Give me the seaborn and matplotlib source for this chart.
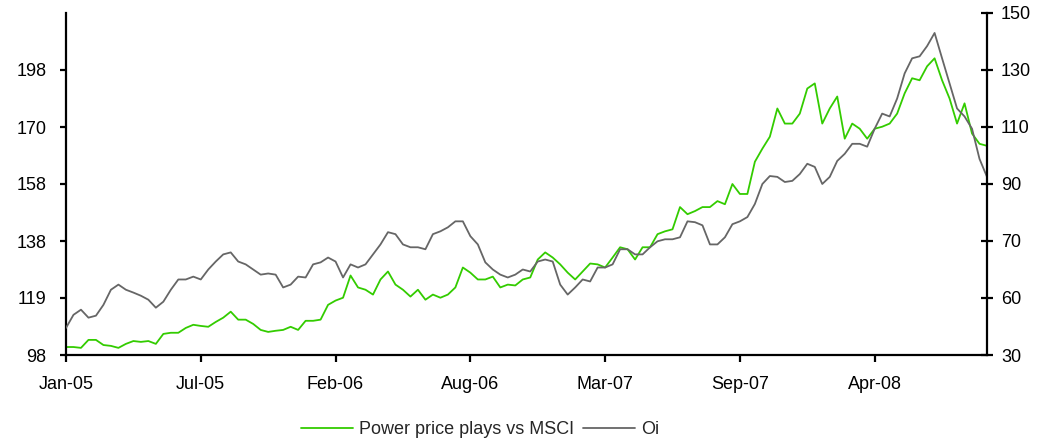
import pandas as pd
import matplotlib
matplotlib.use('Agg')
import matplotlib.pyplot as plt
import seaborn as sns

# Roughly weekly points
power = [100.8, 100.8, 100.5, 103.3, 103.3, 101.5, 101.2, 100.5, 101.9, 102.9,
         102.6, 102.9, 101.9, 105.4, 105.8, 105.8, 107.5, 108.6, 108.2, 107.9,
         109.6, 111.1, 113.2, 110.4, 110.4, 108.9, 106.8, 106.1, 106.5, 106.8,
         107.9, 106.8, 110.0, 110.0, 110.4, 115.6, 117.1, 118.1, 125.9, 121.7,
         120.9, 119.2, 124.5, 127.3, 122.7, 120.9, 118.5, 120.9, 117.4, 119.2,
         118.1, 119.2, 121.7, 128.7, 126.9, 124.5, 124.5, 125.5, 121.7, 122.7,
         122.4, 124.5, 125.2, 131.5, 134.0, 132.2, 129.8, 126.9, 124.5, 127.3,
         130.1, 129.8, 128.7, 132.2, 135.8, 135.1, 131.5, 135.8, 135.8, 140.4,
         141.4, 142.1, 149.9, 147.4, 148.5, 149.9, 149.9, 152.0, 150.9, 158.0,
         154.5, 154.5, 165.8, 170.4, 174.6, 184.5, 179.2, 179.2, 182.7, 191.5,
         193.3, 179.2, 184.5, 188.7, 173.9, 179.2, 177.4, 173.9, 177.4, 178.1,
         179.2, 182.7, 189.8, 195.1, 194.4, 199.3, 202.1, 194.4, 188.0, 179.2,
         186.3, 175.7, 172.1, 171.4]

oil = [39.5, 44.1, 45.9, 43.1, 43.8, 47.6, 52.9, 54.7, 52.9, 51.9,
       50.8, 49.4, 46.6, 48.7, 52.9, 56.5, 56.5, 57.5, 56.5, 60.0,
       62.8, 65.3, 66.0, 62.8, 61.8, 60.0, 58.2, 58.6, 58.2, 53.7,
       54.7, 57.5, 57.2, 61.8, 62.5, 64.2, 62.8, 57.2, 61.8, 60.7,
       61.8, 65.3, 68.8, 73.1, 72.4, 68.8, 67.8, 67.8, 67.1, 72.4,
       73.4, 74.8, 76.9, 76.9, 71.7, 68.8, 62.5, 60.0, 58.2, 57.2,
       58.2, 60.0, 59.3, 62.8, 63.5, 62.8, 54.7, 51.2, 53.7, 56.5,
       55.8, 60.7, 60.7, 61.8, 67.1, 67.1, 65.3, 65.3, 67.8, 69.9,
       70.6, 70.6, 71.3, 76.9, 76.6, 75.5, 68.8, 68.8, 71.3, 75.9,
       76.9, 78.4, 83.0, 90.0, 92.8, 92.5, 90.7, 91.1, 93.5, 97.1,
       96.0, 90.0, 92.5, 98.1, 100.6, 104.1, 104.1, 103.1, 109.4, 114.7,
       113.7, 120.0, 128.8, 134.1, 134.8, 138.4, 143.0, 134.1, 125.3, 116.5,
       113.7, 109.4, 98.8, 92.5]

x_tick_pos = [0, 18, 36, 54, 72, 90, 108]
x_tick_labels = ['Jan-05', 'Jul-05', 'Feb-06', 'Aug-06', 'Mar-07', 'Sep-07', 'Apr-08']
left_ticks = [98, 118, 138, 158, 178, 198]
left_labels = ['98', '119', '138', '158', '170', '198']
right_ticks = [30, 50, 70, 90, 110, 130, 150]
right_labels = ['30', '60', '70', '90', '110', '130', '150']

df = pd.DataFrame({'idx': range(len(power)), 'power': power, 'oil': oil})

sns.set_style('white')
plt.rcParams['font.family'] = ['Liberation Sans', 'DejaVu Sans']
plt.rcParams['font.size'] = 13

fig = plt.figure(figsize=(10.42, 4.42), dpi=100)
ax = fig.add_axes([66 / 1042, 1 - 355 / 442, 921 / 1042, 342 / 442])
ax2 = ax.twinx()

green = '#33cc00'
grey = '#666666'
sns.lineplot(data=df, x='idx', y='power', ax=ax, color=green, linewidth=1.3)
sns.lineplot(data=df, x='idx', y='oil', ax=ax2, color=grey, linewidth=1.3)

ax.set_xlim(0, len(power) - 1)
ax.set_ylim(98, 218)
ax2.set_ylim(30, 150)
ax.set_xticks(x_tick_pos)
ax.set_xticklabels(x_tick_labels)
ax.set_yticks(left_ticks)
ax.set_yticklabels(left_labels)
ax2.set_yticks(right_ticks)
ax2.set_yticklabels(right_labels)
ax.set_xlabel('')
ax.set_ylabel('')
ax2.set_ylabel('')

for a in (ax, ax2):
    a.spines['top'].set_visible(False)
    for s in ('left', 'right', 'bottom'):
        a.spines[s].set_linewidth(1.6)
        a.spines[s].set_color('black')
ax.spines['right'].set_visible(False)
ax2.spines['left'].set_visible(False)
ax2.spines['bottom'].set_visible(False)

ax.tick_params(axis='x', direction='out', length=5, width=1.6, pad=10, colors='black')
ax.tick_params(axis='y', direction='out', length=4, width=1.6, pad=10, colors='black')
ax2.tick_params(axis='y', direction='inout', length=8, width=1.6, pad=6, colors='black')
ax.tick_params(left=True, bottom=True)
ax2.tick_params(right=True)

h1 = ax.get_lines()[0]
h2 = ax2.get_lines()[0]
fig.legend([h1, h2], ['Power price plays vs MSCI', 'Oi'], loc='center',
           bbox_to_anchor=(480 / 1042, 1 - 430 / 442), ncol=2, frameon=False,
           handlelength=2.9, columnspacing=0.5, handletextpad=0.3,
           borderpad=0.1, fontsize=13)

plt.savefig('out.png', dpi=100)
